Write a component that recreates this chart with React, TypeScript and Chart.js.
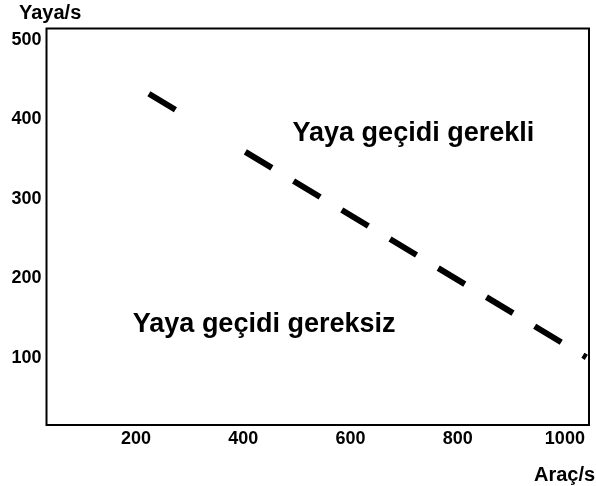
import React, { useEffect, useRef } from "react";
import { Chart, registerables } from "chart.js";

Chart.register(...registerables);

// Boundary line (vehicles/h vs pedestrians/h)
const lineX = [224, 1040];
const lineY = [432, 101];

const xTicks = [200, 400, 600, 800, 1000];
const yTicks = [100, 200, 300, 400, 500];

const xTitle = "Araç/s";
const yTitle = "Yaya/s";

const regionLabels = ["Yaya geçidi gerekli", "Yaya geçidi gereksiz"];
const regionLabelX = [492, 194];
const regionLabelY = [373, 133];

const FONT = '"Liberation Sans", Arial, Helvetica, sans-serif';

const overlayPlugin = {
  id: "overlay",
  afterDraw(chart: any) {
    const { ctx, chartArea, scales } = chart;
    ctx.save();
    ctx.strokeStyle = "#000";
    ctx.lineWidth = 2;
    ctx.strokeRect(
      chartArea.left,
      chartArea.top,
      chartArea.right - chartArea.left,
      chartArea.bottom - chartArea.top
    );
    ctx.fillStyle = "#000";
    ctx.textAlign = "left";
    ctx.textBaseline = "alphabetic";
    ctx.font = `bold 27px ${FONT}`;
    regionLabels.forEach((t, i) => {
      ctx.fillText(
        t,
        scales.x.getPixelForValue(regionLabelX[i]),
        scales.y.getPixelForValue(regionLabelY[i])
      );
    });
    ctx.font = `bold 20px ${FONT}`;
    ctx.fillText(yTitle, 19, 18.5);
    ctx.fillText(xTitle, 534, 481);
    ctx.restore();
  },
};

export default function App() {
  const ref = useRef<HTMLCanvasElement>(null);
  useEffect(() => {
    if (!ref.current) return;
    const period = [31, 25.3];
    const dash: number[] = [31, 81.6];
    for (let i = 0; i < 8; i++) dash.push(...period);
    const chart = new Chart(ref.current, {
      type: "line",
      data: {
        datasets: [
          {
            data: lineX.map((x, i) => ({ x, y: lineY[i] })),
            borderColor: "#000",
            borderWidth: 6,
            borderDash: dash,
            borderCapStyle: "butt",
            pointRadius: 0,
            fill: false,
          },
        ],
      },
      options: {
        responsive: false,
        animation: false,
        devicePixelRatio: 1,
        layout: { padding: { top: 28.5, right: 7, left: 0, bottom: 0 } },
        plugins: {
          legend: { display: false },
          tooltip: { enabled: false },
          title: { display: false },
        },
        scales: {
          x: {
            type: "linear",
            min: 33,
            max: 1045,
            afterBuildTicks: (s: any) => {
              s.ticks = xTicks.map((v) => ({ value: v }));
            },
            grid: { display: false, drawTicks: false },
            border: { display: false },
            ticks: {
              color: "#000",
              padding: 3,
              maxRotation: 0,
              autoSkip: false,
              callback: (v: any) => String(v),
              font: { family: FONT, size: 18, weight: "bold" },
            },
            afterFit: (s: any) => {
              s.height = 61;
            },
          },
          y: {
            type: "linear",
            min: 16,
            max: 514,
            afterBuildTicks: (s: any) => {
              s.ticks = yTicks.map((v) => ({ value: v }));
            },
            grid: { display: false, drawTicks: false },
            border: { display: false },
            ticks: {
              color: "#000",
              padding: 5,
              autoSkip: false,
              callback: (v: any) => String(v),
              font: { family: FONT, size: 18, weight: "bold" },
            },
            afterFit: (s: any) => {
              s.width = 46.5;
            },
          },
        },
      } as any,
      plugins: [overlayPlugin],
    });
    return () => chart.destroy();
  }, []);
  return (
    <div style={{ position: "absolute", left: 0, top: 0, width: 596, height: 486, background: "#fff" }}>
      <canvas ref={ref} width={596} height={486} style={{ display: "block" }} />
    </div>
  );
}
